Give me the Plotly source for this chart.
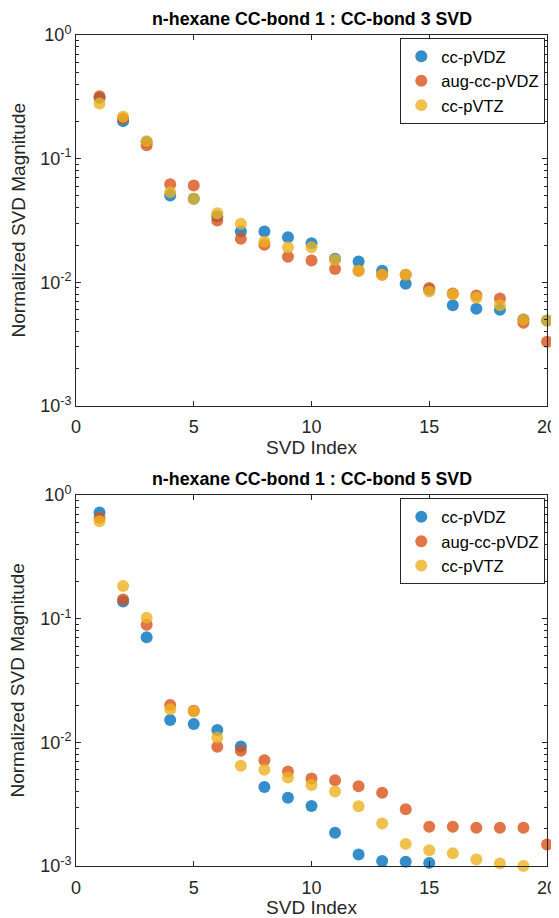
import plotly.graph_objects as go
from plotly.subplots import make_subplots

svd_index = list(range(1, 21))
series_names = ["cc-pVDZ", "aug-cc-pVDZ", "cc-pVTZ"]

top_vdz = [0.310, 0.201, 0.136, 0.0504, 0.0474, 0.034, 0.0257, 0.0257, 0.0231, 0.0207,
           0.0155, 0.0147, 0.0124, 0.0097, 0.0087, 0.0065, 0.0061, 0.0060, 0.0050, 0.0049]
top_aug = [0.320, 0.211, 0.128, 0.0619, 0.0607, 0.0316, 0.0225, 0.0201, 0.0161, 0.0150,
           0.0128, 0.0124, 0.0115, 0.0115, 0.0090, 0.0081, 0.0078, 0.0074, 0.0047, 0.0033]
top_vtz = [0.279, 0.218, 0.138, 0.0536, 0.0474, 0.0362, 0.0297, 0.0213, 0.0192, 0.0192,
           0.0152, 0.0124, 0.0115, 0.0115, 0.0084, 0.0080, 0.0075, 0.0065, 0.0050, 0.0049]

bot_vdz = [0.724, 0.138, 0.0709, 0.0152, 0.0141, 0.0126, 0.00927, 0.00436, 0.00357, 0.00306,
           0.00186, 0.00124, 0.00110, 0.00108, 0.00106, None, None, None, None, None]
bot_aug = [0.655, 0.1435, 0.0894, 0.0201, 0.0180, 0.0092, 0.00855, 0.00718, 0.00581, 0.00510,
           0.00494, 0.00442, 0.00392, 0.00288, 0.00208, 0.00208, 0.00204, 0.00204, 0.00204, 0.00149]
bot_vtz = [0.616, 0.184, 0.102, 0.0185, 0.0178, 0.01096, 0.00646, 0.0060, 0.00519, 0.00453,
           0.0040, 0.00304, 0.00221, 0.00151, 0.00134, 0.00127, 0.00113, 0.00105, 0.00100, None]

titles = ["n-hexane CC-bond 1 : CC-bond 3 SVD", "n-hexane CC-bond 1 : CC-bond 5 SVD"]
x_title = "SVD Index"
y_title = "Normalized SVD Magnitude"
y_tickvals = [0.001, 0.01, 0.1, 1]
y_ticktext = ["10<sup>-3</sup>", "10<sup>-2</sup>", "10<sup>-1</sup>", "10<sup>0</sup>"]
x_tickvals = [0, 5, 10, 15, 20]

colors = ["#0072BD", "#D95319", "#EDB120"]
FONT = "Liberation Sans, Arial, Helvetica, sans-serif"
TXT = "#262626"

# the page body adds an 8px offset; figure coordinates below compensate for it
W, H = 551, 910
ML, MT = 68, 27
PLOT_RIGHT, PLOT_BOTTOM = 538.7, 857.7
MR, MB = W - PLOT_RIGHT, H - PLOT_BOTTOM
plot_h = H - MT - MB
plot_w = W - ML - MR
top_lo = (PLOT_BOTTOM - 397.7) / plot_h
bot_hi = (PLOT_BOTTOM - 487.0) / plot_h

fig = make_subplots(rows=2, cols=1)
fig.update_layout(
    yaxis=dict(domain=[top_lo, 1.0]),
    yaxis2=dict(domain=[0.0, bot_hi]),
)

panels = [(1, [top_vdz, top_aug, top_vtz], "legend"),
          (2, [bot_vdz, bot_aug, bot_vtz], "legend2")]
for row, data, leg in panels:
    for name, vals, col in zip(series_names, data, colors):
        fig.add_trace(go.Scatter(
            x=svd_index, y=vals, mode="markers", name=name, legend=leg,
            cliponaxis=False,
            marker=dict(size=12, color=col, opacity=0.8, line=dict(width=0)),
        ), row=row, col=1)

minor_vals = [m * 10 ** e for e in (-3, -2, -1) for m in range(2, 10)]

for row in (1, 2):
    fig.update_xaxes(
        range=[0, 20], tickvals=x_tickvals, ticks="inside", ticklen=5, tickcolor=TXT,
        ticklabelstandoff=5,
        showline=True, linecolor=TXT, linewidth=1, mirror="ticks", automargin=False,
        showgrid=False, zeroline=False, tickfont=dict(size=18, color=TXT, family=FONT),
        title=dict(text=x_title, font=dict(size=19, color=TXT, family=FONT), standoff=1),
        row=row, col=1)
    fig.update_yaxes(
        type="log", range=[-3, 0], tickvals=y_tickvals, ticktext=y_ticktext,
        ticks="inside", ticklen=5, tickcolor=TXT, automargin=False,
        minor=dict(tickvals=minor_vals, ticks="inside", ticklen=3, tickcolor=TXT, showgrid=False),
        showline=True, linecolor=TXT, linewidth=1, mirror="ticks",
        showgrid=False, zeroline=False, tickfont=dict(size=18, color=TXT, family=FONT),
        row=row, col=1)

annotations = []
for title, dom in zip(titles, [(top_lo, 1.0), (0.0, bot_hi)]):
    annotations.append(dict(
        text="<b>%s</b>" % title, xref="paper", yref="paper", x=0.5, y=dom[1],
        xanchor="center", yanchor="bottom", yshift=4, showarrow=False,
        font=dict(size=17.8, color="black", family=FONT)))
    annotations.append(dict(
        text=y_title, xref="paper", yref="paper", x=0, y=(dom[0] + dom[1]) / 2,
        xanchor="center", yanchor="middle", xshift=-58, textangle=-90, showarrow=False,
        font=dict(size=19, color=TXT, family=FONT)))

legend_style = dict(
    xref="paper", yref="paper", xanchor="right", yanchor="top",
    bgcolor="white", bordercolor=TXT, borderwidth=1,
    font=dict(size=16.5, color="black", family=FONT),
    itemsizing="constant", itemwidth=30, tracegroupgap=0,
)
fig.update_layout(
    width=W, height=H,
    margin=dict(l=ML, r=MR, t=MT, b=MB),
    paper_bgcolor="white", plot_bgcolor="white",
    font=dict(family=FONT, color=TXT),
    annotations=annotations,
    legend=dict(x=(537 - ML) / plot_w, y=(PLOT_BOTTOM - 30) / plot_h, **legend_style),
    legend2=dict(x=(537 - ML) / plot_w, y=(PLOT_BOTTOM - 490.3) / plot_h, **legend_style),
)

fig.write_html("out.html")
